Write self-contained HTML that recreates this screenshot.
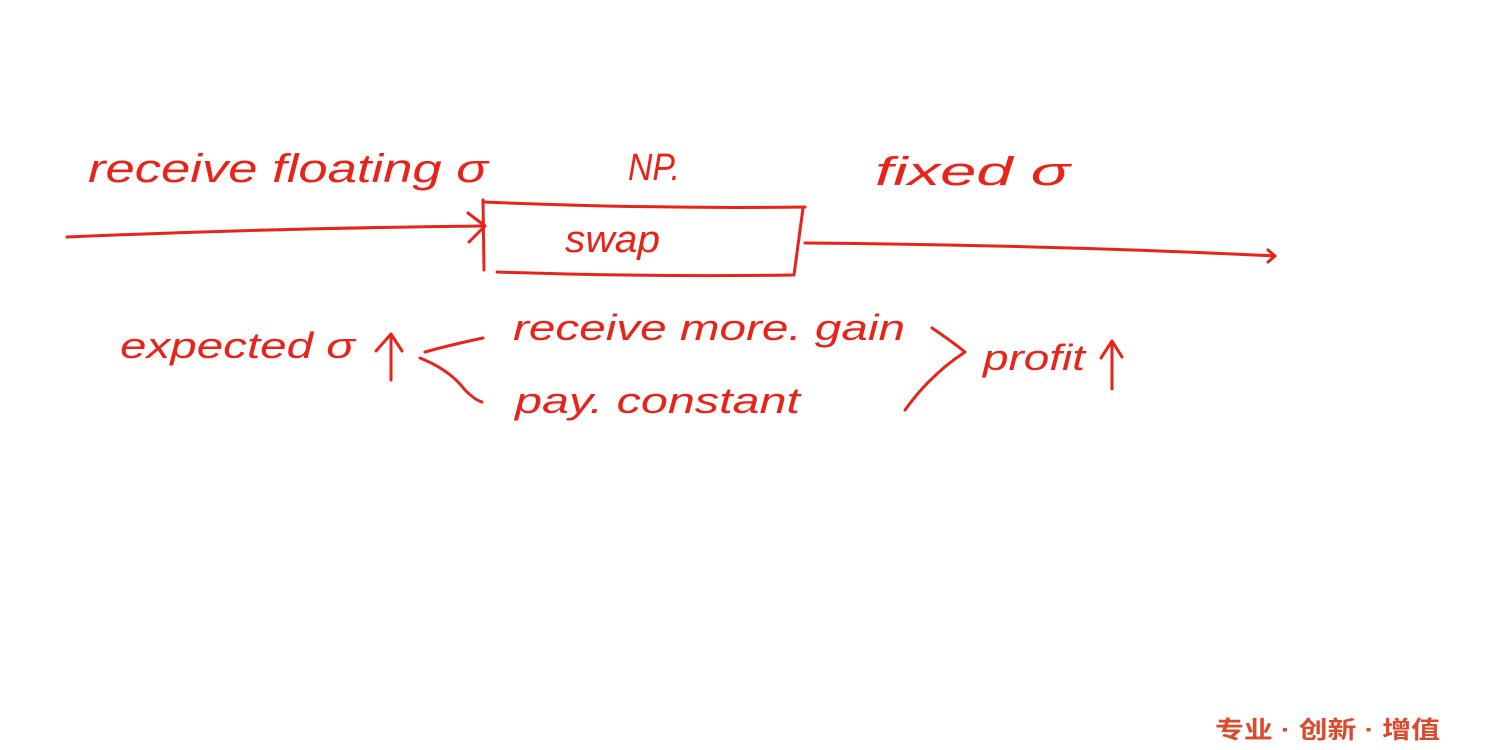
<!DOCTYPE html>
<html><head><meta charset="utf-8"><style>
html,body{margin:0;padding:0;background:#fff;width:1500px;height:750px;overflow:hidden}
svg{display:block}
.t{font-family:"Liberation Sans",sans-serif;font-style:italic;fill:#e8231a}
</style></head><body>
<svg width="1500" height="750" viewBox="0 0 1500 750" xmlns="http://www.w3.org/2000/svg">
<g fill="none" stroke="#e8231a" stroke-width="3" stroke-linecap="round" stroke-linejoin="round">
<path d="M67 237 Q280 228 485 226"/>
<path d="M468 213 L485 226 L469 242"/>
<path d="M483 200 L484 270"/>
<path d="M484 202 Q650 209 805 207"/>
<path d="M803 208 Q798 245 794 275"/>
<path d="M497 272 Q650 277 792 275"/>
<path d="M805 243 Q1050 245 1275 256"/>
<path d="M1268 250 L1275 256 L1268 262"/>
<path d="M391 380 L391 336"/>
<path d="M376 351 L391 334 L402 351"/>
<path d="M483 338 Q450 345 425 352"/>
<path d="M420 358 Q450 370 465 390 Q475 400 482 402"/>
<path d="M932 328 Q950 340 965 352 Q930 375 905 410"/>
<path d="M1112 389 L1112 343"/>
<path d="M1101 358 L1112 341 L1122 357"/>
</g>
<text class="t" x="88" y="182" font-size="40" textLength="400" lengthAdjust="spacingAndGlyphs">receive floating σ</text>
<text class="t" x="628" y="180" font-size="38" textLength="52" lengthAdjust="spacingAndGlyphs">NP.</text>
<text class="t" x="875" y="185" font-size="40" textLength="195" lengthAdjust="spacingAndGlyphs">fixed σ</text>
<text class="t" x="565" y="252" font-size="38" textLength="95" lengthAdjust="spacingAndGlyphs">swap</text>
<text class="t" x="120" y="358" font-size="36" textLength="235" lengthAdjust="spacingAndGlyphs">expected σ</text>
<text class="t" x="513" y="340" font-size="36" textLength="392" lengthAdjust="spacingAndGlyphs">receive more. gain</text>
<text class="t" x="515" y="413" font-size="36" textLength="285" lengthAdjust="spacingAndGlyphs">pay. constant</text>
<text class="t" x="983" y="370" font-size="36" textLength="102" lengthAdjust="spacingAndGlyphs">profit</text>
<text x="1215" y="738" font-size="24" font-weight="bold" fill="#dc4a2e" font-family="'Liberation Sans','Noto Sans CJK SC',sans-serif" textLength="225" lengthAdjust="spacingAndGlyphs">专业 · 创新 · 增值</text>
</svg>
</body></html>
